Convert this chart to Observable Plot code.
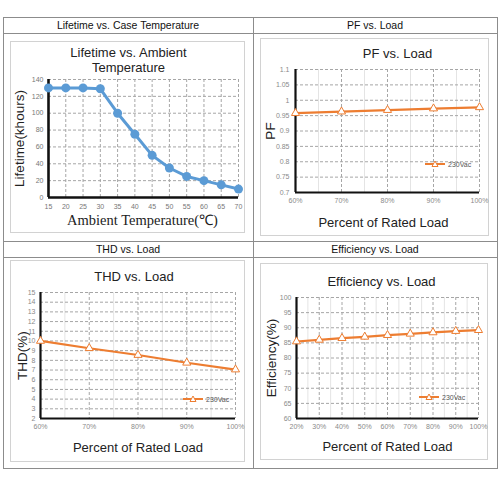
<!DOCTYPE html>
<html>
<head>
<meta charset="utf-8">
<script src="https://cdn.jsdelivr.net/npm/d3@7"></script>
<script src="https://cdn.jsdelivr.net/npm/@observablehq/plot@0.6"></script>
<style>
  body { margin: 0; background: #fff; font-family: "Liberation Sans", Arial, sans-serif; }
  #page { position: relative; width: 500px; height: 500px; overflow: hidden; }
  .ln { position: absolute; background: #8c8c8c; }
  .hd { position: absolute; height: 16px; line-height: 16px; font-size: 10.5px; text-align: center; color: #111; }
  .box { position: absolute; border: 1.5px solid #d2d2d2; box-sizing: border-box; }
  .chart { position: absolute; }
  .lg { position: absolute; font-size: 7px; color: #555; display: flex; align-items: center; height: 10px; }
</style>
</head>
<body>
<div id="page"></div>
<script>
// lifetime curve
const tempC = [15, 20, 25, 30, 35, 40, 45, 50, 55, 60, 65, 70];
const lifetime = [130, 130, 130, 129, 100, 75, 50, 35, 25, 20, 15, 10];

// power factor
const pfLoad = [60, 70, 80, 90, 100];
const pf = [0.958, 0.963, 0.968, 0.973, 0.977];

// THD
const thdLoad = [60, 70, 80, 90, 100];
const thd = [10, 9.25, 8.55, 7.75, 7.05];

// efficiency
const effLoad = [20, 30, 40, 50, 60, 70, 80, 90, 100];
const eff = [85.45, 86, 86.55, 87, 87.55, 88, 88.45, 88.9, 89.2];

// ticks
const tempTicks = [15, 20, 25, 30, 35, 40, 45, 50, 55, 60, 65, 70];
const lifeTicks = [0, 20, 40, 60, 80, 100, 120, 140];
const pfTicks = [0.7, 0.75, 0.8, 0.85, 0.9, 0.95, 1, 1.05, 1.1];
const thdTicks = [2, 3, 4, 5, 6, 7, 8, 9, 10, 11, 12, 13, 14, 15];
const effTicks = [60, 65, 70, 75, 80, 85, 90, 95, 100];
const load60Ticks = [60, 70, 80, 90, 100];
const load60Minor = [65, 75, 85, 95];
const load20Ticks = [20, 30, 40, 50, 60, 70, 80, 90, 100];
const load20Minor = [25, 35, 45, 55, 65, 75, 85, 95];

const headers = ["Lifetime vs. Case Temperature", "PF vs. Load", "THD vs. Load", "Efficiency vs. Load"];
const seriesName = "230Vac";

const page = document.getElementById("page");
const blue = "#5b9bd5";
const orange = "#ed7d31";

function div(cls, css, text) {
  const el = document.createElement("div");
  el.className = cls;
  Object.assign(el.style, css);
  if (text) el.textContent = text;
  page.appendChild(el);
  return el;
}

// table frame
div("ln", {left: "3px", top: "17px", width: "494px", height: "1px"});
div("ln", {left: "3px", top: "33px", width: "494px", height: "1px"});
div("ln", {left: "3px", top: "241px", width: "494px", height: "1px"});
div("ln", {left: "3px", top: "257px", width: "494px", height: "1px"});
div("ln", {left: "3px", top: "468px", width: "494px", height: "1px"});
div("ln", {left: "3px", top: "17px", width: "1px", height: "452px"});
div("ln", {left: "253px", top: "17px", width: "1px", height: "452px"});
div("ln", {left: "497px", top: "17px", width: "1px", height: "452px"});

div("hd", {left: "3px", top: "17px", width: "250px"}, headers[0]);
div("hd", {left: "253px", top: "17px", width: "244px"}, headers[1]);
div("hd", {left: "3px", top: "241px", width: "250px"}, headers[2]);
div("hd", {left: "253px", top: "241px", width: "244px"}, headers[3]);

function legend(left, top) {
  const el = div("lg", {left: left + "px", top: top + "px"});
  el.innerHTML =
    `<svg width="22" height="10"><line x1="1" x2="21" y1="5" y2="5" stroke="${orange}" stroke-width="2"/>` +
    `<path d="M11,2 L14,7.5 L8,7.5 Z" fill="#fff" stroke="${orange}" stroke-width="1"/></svg>` +
    `<span style="margin-left:2px">${seriesName}</span>`;
}

function panel(o) {
  div("box", {left: o.left + "px", top: o.top + "px", width: o.width + "px", height: o.height + "px"});
  const table = o.xs.map((x, i) => ({x, y: o.ys[i]}));
  const chart = Plot.plot({
    width: o.width,
    height: o.height,
    marginLeft: o.ml,
    marginRight: o.mr,
    marginTop: o.mt,
    marginBottom: o.mb,
    style: {fontFamily: "Liberation Sans, Arial, sans-serif", background: "transparent", overflow: "visible"},
    x: {domain: o.xDomain},
    y: {domain: o.yDomain},
    marks: [
      o.minorX ? Plot.ruleX(o.minorX, {stroke: "#e4e4e4"}) : null,
      Plot.gridX({ticks: o.xTicks, stroke: "#a6a6a6", strokeOpacity: 1, strokeDasharray: "3,2"}),
      Plot.gridY({ticks: o.yTicks, stroke: "#a6a6a6", strokeOpacity: 1, strokeDasharray: "3,2"}),
      Plot.ruleX([o.xDomain[0]], {stroke: "#111", strokeWidth: o.axisWidth}),
      Plot.ruleY([o.yDomain[0]], {stroke: "#111", strokeWidth: o.axisWidth}),
      Plot.axisX({ticks: o.xTicks, tickFormat: o.xFormat, tickSize: 0, tickPadding: o.xPad, fontSize: 7, color: o.tickColor, label: null}),
      Plot.axisY({ticks: o.yTicks, tickFormat: d => String(d), tickSize: 0, tickPadding: o.yPad, fontSize: 7, color: o.tickColor, label: null}),
      Plot.line(table, {x: "x", y: "y", stroke: o.color, strokeWidth: o.lineWidth}),
      o.symbol === "circle"
        ? Plot.dot(table, {x: "x", y: "y", r: 4.5, fill: o.color})
        : Plot.dot(table, {x: "x", y: "y", symbol: "triangle", r: 3, fill: "#fff", stroke: o.color, strokeWidth: 1}),
      Plot.text([o.title], {frameAnchor: "top", lineAnchor: "top", dx: o.titleDx, dy: o.titleDy, fontSize: 13, lineHeight: 1.2, fill: "#222"}),
      Plot.text([o.xLabel], {frameAnchor: "bottom", lineAnchor: "middle", dx: o.xLabelDx, dy: o.xLabelDy, fontSize: o.xLabelSize, fontFamily: o.xLabelFont, fill: "#222"}),
      Plot.text([o.yLabel], {frameAnchor: "left", rotate: -90, textAnchor: "middle", lineAnchor: "middle", dx: o.yLabelDx, fontSize: 13.5, fill: "#222"})
    ]
  });
  chart.classList.add("chart");
  chart.style.left = o.left + "px";
  chart.style.top = o.top + "px";
  page.appendChild(chart);
}

panel({
  left: 10, top: 41, width: 235, height: 192,
  ml: 38, mr: 7, mt: 38, mb: 36,
  xs: tempC, ys: lifetime,
  xDomain: [15, 70], yDomain: [0, 140],
  xTicks: tempTicks, yTicks: lifeTicks, xFormat: d => d,
  xPad: 7, yPad: 5, tickColor: "#777", axisWidth: 2.6,
  color: blue, lineWidth: 3, symbol: "circle",
  title: "Lifetime vs. Ambient\nTemperature", titleDx: -15, titleDy: -34,
  xLabel: "Ambient Temperature(℃)", xLabelDx: -1, xLabelDy: 23, xLabelSize: 14.5, xLabelFont: "Liberation Serif, Times New Roman, serif",
  yLabel: "Lifetime(khours)", yLabelDx: -29
});

panel({
  left: 260, top: 38, width: 229, height: 198,
  ml: 35, mr: 10, mt: 31, mb: 44,
  xs: pfLoad, ys: pf,
  xDomain: [60, 100], yDomain: [0.7, 1.1],
  xTicks: load60Ticks, yTicks: pfTicks, minorX: load60Minor, xFormat: d => d + "%",
  xPad: 6, yPad: 6, tickColor: "#8a8a8a", axisWidth: 2.2,
  color: orange, lineWidth: 2.2, symbol: "triangle",
  title: "PF vs. Load", titleDx: 10, titleDy: -23,
  xLabel: "Percent of Rated Load", xLabelDx: -4, xLabelDy: 30, xLabelSize: 13, xLabelFont: null,
  yLabel: "PF", yLabelDx: -25
});

panel({
  left: 10, top: 260, width: 235, height: 202,
  ml: 30, mr: 10, mt: 32, mb: 44,
  xs: thdLoad, ys: thd,
  xDomain: [60, 100], yDomain: [2, 15],
  xTicks: load60Ticks, yTicks: thdTicks, minorX: load60Minor, xFormat: d => d + "%",
  xPad: 6, yPad: 5, tickColor: "#8a8a8a", axisWidth: 2.2,
  color: orange, lineWidth: 2.2, symbol: "triangle",
  title: "THD vs. Load", titleDx: -4, titleDy: -23,
  xLabel: "Percent of Rated Load", xLabelDx: 0, xLabelDy: 29, xLabelSize: 13, xLabelFont: null,
  yLabel: "THD(%)", yLabelDx: -18
});

panel({
  left: 260, top: 263, width: 228, height: 197,
  ml: 36, mr: 10, mt: 34, mb: 42,
  xs: effLoad, ys: eff,
  xDomain: [20, 100], yDomain: [60, 100],
  xTicks: load20Ticks, yTicks: effTicks, minorX: load20Minor, xFormat: d => d + "%",
  xPad: 6, yPad: 5, tickColor: "#8a8a8a", axisWidth: 2.2,
  color: orange, lineWidth: 2.2, symbol: "triangle",
  title: "Efficiency vs. Load", titleDx: -6, titleDy: -23,
  xLabel: "Percent of Rated Load", xLabelDx: 0, xLabelDy: 28, xLabelSize: 13, xLabelFont: null,
  yLabel: "Efficiency(%)", yLabelDx: -25
});

legend(424, 159);
legend(182, 394);
legend(418, 392);
</script>
</body>
</html>
